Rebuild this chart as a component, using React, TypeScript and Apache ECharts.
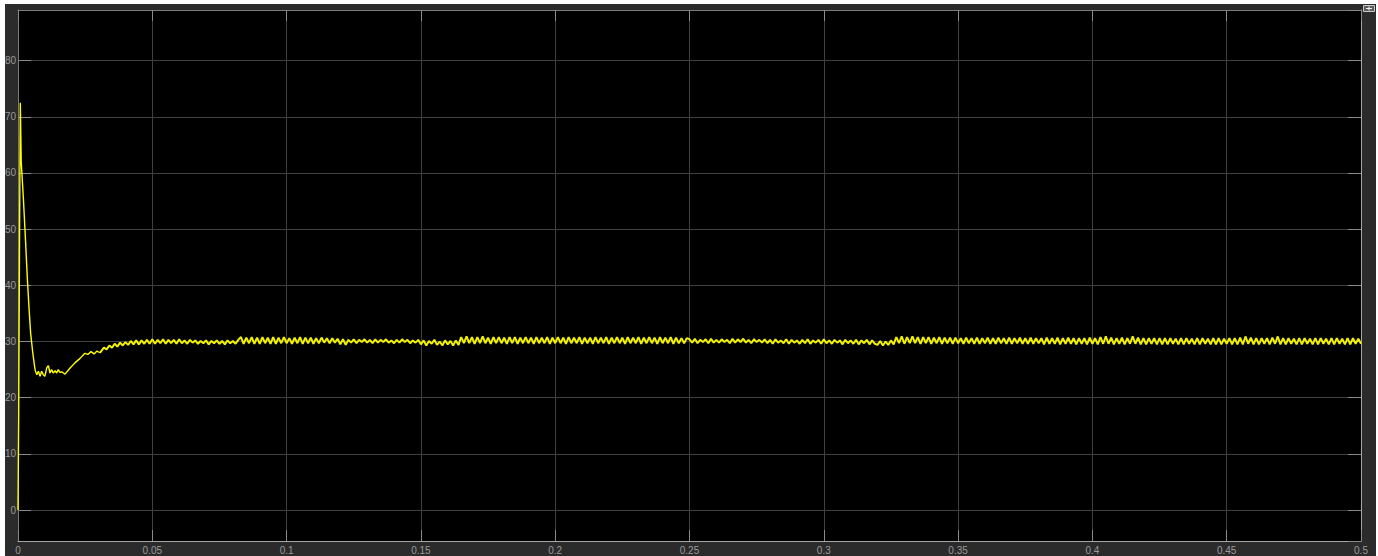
import React, { useEffect, useRef } from "react";
import * as echarts from "echarts";

// ---- Data ----
// Start-up transient (time in s, value)
const transientT = [
  0, 0.00026, 0.00056, 0.00086, 0.0012, 0.002, 0.0028, 0.0035, 0.0041, 0.0047,
  0.0055, 0.0062, 0.0064, 0.007, 0.0076, 0.0082, 0.0088, 0.0094, 0.01, 0.0107,
  0.0113, 0.0119, 0.0125, 0.0131, 0.0138, 0.0144, 0.015, 0.0156, 0.0163, 0.0169,
  0.0175, 0.0194, 0.0212, 0.0231, 0.0249, 0.026, 0.0272, 0.0283, 0.0294, 0.0305,
];
const transientV = [
  0, 17, 47.5, 72.5, 62, 55.5, 48, 41, 36, 31.5,
  28, 25.5, 24.9, 24.1, 24.7, 23.8, 24.7, 24.1, 23.8, 25.3,
  25.7, 24.4, 25.0, 24.4, 24.8, 24.4, 25.0, 24.5, 24.6, 24.4,
  24.2, 25.3, 26.2, 27.0, 27.9, 27.7, 28.2, 27.8, 28.3, 28.0,
];

// Ripple section, sampled every STEADY_STEP seconds from STEADY_START
const STEADY_START = 0.031;
const STEADY_STEP = 0.001;
const rippleRise = [
  28.3, 28.9, 28.6, 29.3, 28.9, 29.6, 29.1, 29.8, 29.3, 29.9,
  29.4, 30.1, 29.5, 30.2, 29.5, 30.2, 29.6, 30.3, 29.6, 30.4,
  29.6, 30.3, 29.7, 30.4, 29.6, 30.3, 29.7, 30.3, 29.6, 30.4,
  29.7, 30.2, 29.6, 30.3, 29.8, 30.2, 29.6, 30.1, 29.7, 30.2,
  29.5, 30.1, 29.7, 30.2, 29.6, 30.1, 29.5, 30.2, 29.7, 30.1,
  29.6, 30.3,
];
const rippleA = [
  30.8, 29.6, 30.7, 29.7, 30.8, 29.6, 30.7, 29.6, 30.8, 29.7,
  30.7, 29.6, 30.8, 29.6, 30.7, 29.7, 30.8, 29.7, 30.6, 29.6,
  30.7, 29.7, 30.8, 29.6, 30.7, 29.7, 30.7, 29.6, 30.6, 29.7,
  30.7, 29.8, 30.6, 29.7, 30.6, 29.8, 30.5,
];
const rippleB = [
  29.5, 30.4, 29.4, 30.3, 29.8, 30.4, 29.7, 30.3, 29.9, 30.4,
  29.8, 30.3, 29.7, 30.4, 29.8, 30.3, 29.9, 30.4, 29.8, 30.2,
  29.7, 30.3, 29.8, 30.4, 29.9, 30.3, 29.7, 30.2, 29.8, 30.3,
];
const dipA = [
  29.5, 30.2, 29.3, 30.1, 29.6, 30.3, 29.4, 30.0, 29.3, 30.2,
  29.5, 30.1, 29.3, 30.2, 29.4,
];
const rippleC = [
  30.8, 29.7, 30.9, 29.7, 30.8, 29.6, 30.8, 29.7, 30.9, 29.7,
  30.7, 29.6, 30.8, 29.7, 30.8, 29.7, 30.7, 29.6, 30.8, 29.7,
  30.8, 29.6, 30.7, 29.7, 30.8, 29.7, 30.7, 29.6, 30.8, 29.7,
  30.7, 29.7, 30.8, 29.6, 30.7, 29.7, 30.8, 29.7, 30.7, 29.6,
  30.8, 29.7, 30.7, 29.7, 30.8, 29.6, 30.7, 29.7, 30.7, 29.6,
  30.8, 29.7, 30.7, 29.7, 30.8, 29.6, 30.7, 29.7, 30.8, 29.7,
  30.7, 29.6, 30.8, 29.7, 30.7, 29.7, 30.8, 29.6, 30.7, 29.7,
  30.8, 29.7, 30.7, 29.6, 30.8, 29.7, 30.7, 29.7, 30.8, 29.6,
  30.7, 29.7, 30.6, 29.7, 30.6,
];
const rippleD = [
  30.4, 29.8, 30.5, 29.7, 30.3, 29.9, 30.4, 29.7, 30.5, 29.8,
  30.3, 29.8, 30.4, 29.9, 30.3, 29.7, 30.5, 29.8, 30.4, 29.9,
  30.5, 29.8, 30.3, 29.7, 30.4, 29.9, 30.3, 29.8, 30.4, 29.7,
  30.3, 29.6, 30.4, 29.8, 30.2, 29.7, 30.4, 29.6, 30.3, 29.8,
  30.2, 29.6, 30.3, 29.7, 30.4, 29.6, 30.2, 29.8, 30.3, 29.6,
  30.4, 29.7, 30.2, 29.6, 30.3, 29.8, 30.2, 29.5, 30.3, 29.7,
  30.2, 29.6, 30.3, 29.5, 30.2, 29.7, 30.3, 29.5, 30.2, 29.6,
];
const dipB = [29.4, 30.1, 29.3, 30.0, 29.4, 30.2, 29.5];
const rippleE = [
  30.8, 29.7, 30.9, 29.6, 30.8, 29.7, 30.9, 29.7, 30.8, 29.6,
  30.8, 29.7, 30.8, 29.6, 30.7, 29.7, 30.8, 29.6, 30.7, 29.7,
  30.7, 29.6, 30.7, 29.7, 30.6, 29.6, 30.7, 29.7, 30.6, 29.6,
  30.7, 29.6, 30.6, 29.7, 30.7, 29.6, 30.6, 29.6, 30.7, 29.7,
  30.6, 29.6, 30.7, 29.6, 30.6, 29.7, 30.7, 29.6, 30.6, 29.6,
  30.7, 29.6, 30.6, 29.7, 30.6, 29.5, 30.7, 29.6, 30.6, 29.6,
  30.7, 29.5, 30.6, 29.6, 30.7, 29.6, 30.6, 29.5, 30.6, 29.6,
  30.6, 29.5, 30.7, 29.6, 30.6, 29.5, 30.8, 29.6, 30.9, 29.6,
  30.7, 29.5, 30.6, 29.6, 30.7, 29.5, 30.6, 29.6, 30.9, 29.6,
  30.7, 29.5, 30.6, 29.5, 30.6, 29.6, 30.6, 29.5, 30.6, 29.5,
  30.6, 29.5, 30.6, 29.6, 30.5, 29.5, 30.6, 29.5, 30.6, 29.6,
  30.5, 29.5, 30.6, 29.5, 30.6, 29.6, 30.5, 29.5, 30.6, 29.5,
  30.6, 29.5, 30.5, 29.6, 30.6, 29.5, 30.6, 29.5, 30.7, 29.5,
  30.9, 29.6, 30.7, 29.5, 30.6, 29.5, 30.6, 29.6, 30.6, 29.5,
  30.7, 29.6, 30.9, 29.5, 30.6, 29.5, 30.6, 29.6, 30.5, 29.5,
  30.6, 29.5, 30.6, 29.6, 30.5, 29.5, 30.6, 29.5, 30.6, 29.6,
  30.5, 29.5, 30.6, 29.5, 30.6, 29.6, 30.5, 29.5, 30.6, 29.5,
  30.6, 29.6, 30.5, 29.6,
];

// Axes
const X_MIN = 0;
const X_MAX = 0.5;
const X_INTERVAL = 0.05;
const Y_MIN = -5.5;
const Y_MAX = 89;
const Y_INTERVAL = 10;

const LABEL_FONT = "'Liberation Sans', Arial, Helvetica, sans-serif";

export default function App() {
  const ref = useRef<HTMLDivElement>(null);

  useEffect(() => {
    if (!ref.current) return;
    const chart = echarts.init(ref.current, null, { renderer: "svg" });

    const ripple = [
      ...rippleRise, ...rippleA, ...rippleB, ...dipA,
      ...rippleC, ...rippleD, ...dipB, ...rippleE,
    ];
    const transientData: number[][] = transientT.map((t, i) => [t, transientV[i]]);
    const last = transientData[transientData.length - 1];
    const rippleData: number[][] = [[last[0], last[1]]];
    ripple.forEach((v, i) => {
      rippleData.push([+(STEADY_START + i * STEADY_STEP).toFixed(4), v]);
    });

    const labelStyle = {
      color: "#9a9a9a",
      fontSize: 10,
      fontFamily: LABEL_FONT,
    };

    chart.setOption({
      animation: false,
      backgroundColor: "#2b2b2b",
      grid: {
        left: 13,
        right: 15,
        top: 6,
        bottom: 15,
        show: true,
        backgroundColor: "#000000",
        borderWidth: 0,
        containLabel: false,
        outerBoundsMode: "none",
      },
      xAxis: [
        {
          type: "value",
          min: X_MIN,
          max: X_MAX,
          interval: X_INTERVAL,
          position: "bottom",
          axisLine: { show: true, onZero: false, lineStyle: { color: "#a8a8a8", width: 1 } },
          axisTick: { show: true, inside: true, length: 11, lineStyle: { color: "#8a8a8a" } },
          axisLabel: { ...labelStyle, margin: 4 },
          splitLine: { show: true, lineStyle: { color: "#404040", width: 1 } },
        },
        {
          type: "value",
          min: X_MIN,
          max: X_MAX,
          interval: X_INTERVAL,
          position: "top",
          axisLine: { show: true, onZero: false, lineStyle: { color: "#7a7a7a", width: 1 } },
          axisTick: { show: true, inside: true, length: 11, lineStyle: { color: "#8a8a8a" } },
          axisLabel: { show: false },
          splitLine: { show: false },
        },
      ],
      yAxis: [
        {
          type: "value",
          min: Y_MIN,
          max: Y_MAX,
          minInterval: Y_INTERVAL,
          maxInterval: Y_INTERVAL,
          splitNumber: 9,
          position: "left",
          axisLine: { show: true, onZero: false, lineStyle: { color: "#7a7a7a", width: 1 } },
          axisTick: { show: true, inside: true, length: 13, lineStyle: { color: "#8a8a8a" } },
          axisLabel: { ...labelStyle, margin: 2, showMinLabel: false, showMaxLabel: false },
          splitLine: { show: true, lineStyle: { color: "#404040", width: 1 } },
        },
        {
          type: "value",
          min: Y_MIN,
          max: Y_MAX,
          minInterval: Y_INTERVAL,
          maxInterval: Y_INTERVAL,
          splitNumber: 9,
          position: "right",
          axisLine: { show: true, onZero: false, lineStyle: { color: "#a8a8a8", width: 1 } },
          axisTick: { show: true, inside: true, length: 13, lineStyle: { color: "#8a8a8a" } },
          axisLabel: { show: false },
          splitLine: { show: false },
        },
      ],
      series: [
        {
          type: "line",
          xAxisIndex: 0,
          yAxisIndex: 0,
          data: transientData,
          showSymbol: false,
          symbol: "none",
          clip: true,
          lineStyle: { color: "#ffff00", width: 1.4 },
        },
        {
          type: "line",
          xAxisIndex: 0,
          yAxisIndex: 0,
          data: rippleData,
          showSymbol: false,
          symbol: "none",
          clip: true,
          lineStyle: { color: "#f2f200", width: 2 },
        },
      ],
      graphic: [
        {
          type: "rect",
          shape: { x: 1358.5, y: 1.5, width: 11, height: 6 },
          style: { fill: "#5e5e5e", stroke: "#c8c8c8", lineWidth: 1 },
        },
        {
          type: "line",
          shape: { x1: 1361, y1: 4.5, x2: 1367, y2: 4.5 },
          style: { stroke: "#f0f0f0", lineWidth: 1 },
        },
        {
          type: "line",
          shape: { x1: 1364, y1: 2.5, x2: 1364, y2: 6.5 },
          style: { stroke: "#f0f0f0", lineWidth: 1 },
        },
      ],
    });

    return () => chart.dispose();
  }, []);

  return (
    <div
      style={{
        position: "fixed",
        left: 0,
        top: 0,
        width: 1378,
        height: 556,
        background: "#ffffff",
      }}
    >
      <div
        ref={ref}
        style={{ position: "absolute", left: 5, top: 4, width: 1371, height: 552 }}
      />
    </div>
  );
}
